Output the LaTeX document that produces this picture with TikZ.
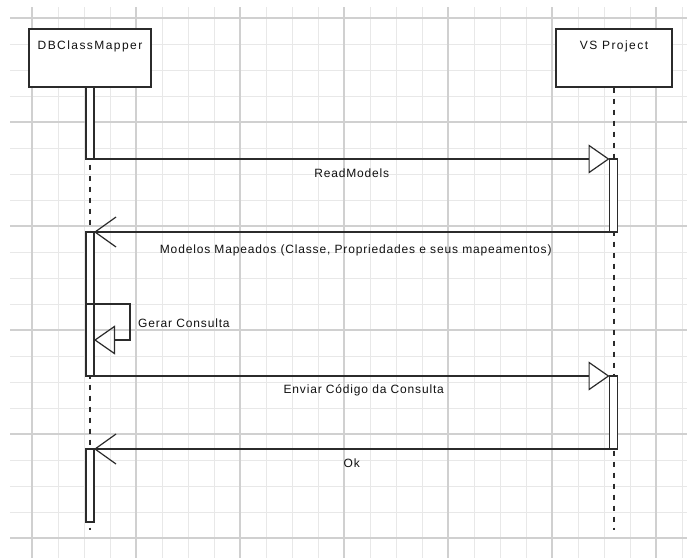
\documentclass[tikz,border=0pt]{standalone}
\usepackage{fontspec}
\setmainfont{Liberation Sans}
\newfontfamily\titlefont[LetterSpace=12]{Liberation Sans}
\newfontfamily\msgfont[LetterSpace=7]{Liberation Sans}
\usepackage{tikz}
\usetikzlibrary{arrows.meta,positioning}
\definecolor{ink}{HTML}{2B2B2B}
\definecolor{txt}{HTML}{111111}
\definecolor{gridlt}{HTML}{E8E8E8}
\definecolor{griddk}{HTML}{D0D0D0}
\tikzset{
  gridmin/.style={draw=gridlt,line width=1pt},
  gridmaj/.style={draw=griddk,line width=1.2pt},
  objbox/.style={draw=ink,fill=white,line width=1.3pt,minimum height=58pt,inner xsep=0pt,inner ysep=7pt,text height=13pt,text depth=31pt,font=\titlefont\fontsize{12}{14}\selectfont,text=txt},
  actbar/.style={draw=ink,fill=white,line width=1.2pt,minimum width=8pt,inner sep=0pt,outer sep=0pt},
  life/.style={draw=ink,line width=1.2pt,dash pattern=on 5pt off 6pt},
  call/.style={draw=ink,line width=1.2pt,-{Triangle[open,length=21pt,width=29pt]}},
  ret/.style={draw=ink,line width=1.2pt,-{Straight Barb[length=21pt,width=30pt]}},
  msg/.style={font=\msgfont\fontsize{12}{14}\selectfont,text=txt,inner sep=0pt},
}

\begin{document}
\begin{tikzpicture}[x=1pt,y=-1pt]
\useasboundingbox[fill=white] (0,0) rectangle (687,558);
\foreach \i in {0,...,25} \draw[gridmin] ({32+26*\i},7) -- ({32+26*\i},558);
\foreach \i in {0,...,20} \draw[gridmin] (10,{18+26*\i}) -- (687,{18+26*\i});
\foreach \i in {0,...,6} \draw[gridmaj] ({32+104*\i},7) -- ({32+104*\i},558);
\foreach \i in {0,...,5} \draw[gridmaj] (10,{18+104*\i}) -- (687,{18+104*\i});

\node[objbox,minimum width=122pt] (dbbox) at (90,58) {DBClassMapper};
\node[objbox,minimum width=116pt] (vsbox) at (614,58) {VS Project};
\coordinate (dbend) at (90,530);
\coordinate (vsend) at (614,530);
\draw[life] (dbbox.south) -- (dbend);
\draw[life] (vsbox.south) -- (vsend);

\node[actbar,minimum height=72pt] (db1) at (90,123) {};
\node[actbar,minimum height=144pt] (db2) at (90,304) {};
\node[actbar,minimum height=73pt] (db3) at (90,485.5) {};
\node[actbar,minimum height=73pt] (vs1) at (613.5,195.5) {};
\node[actbar,minimum height=73pt] (vs2) at (613.5,412.5) {};

\draw[call] (db1.south east) -- (vs1.north west) node[msg,midway,anchor=base,yshift=-18pt] (readlbl) {ReadModels};
\draw[ret] (vs1.south west) -- (db2.north east) node[msg,midway,anchor=base,yshift=-21pt,xshift=4pt] (mapeadolbl) {Modelos Mapeados (Classe, Propriedades e seus mapeamentos)};
\coordinate (gc) at (130,340);
\draw[call] (db2.west) -| (gc) -- (db2.east |- gc);
\node[msg,anchor=base west] (gerarlbl) at (138,327) {Gerar Consulta};
\draw[call] (db2.south east) -- (vs2.north west) node[msg,midway,anchor=base,yshift=-17pt,xshift=12pt] (enviarlbl) {Enviar Código da Consulta};
\draw[ret] (vs2.south west) -- (db3.north east) node[msg,midway,anchor=base,yshift=-18pt] (oklbl) {Ok};
\end{tikzpicture}
\end{document}
